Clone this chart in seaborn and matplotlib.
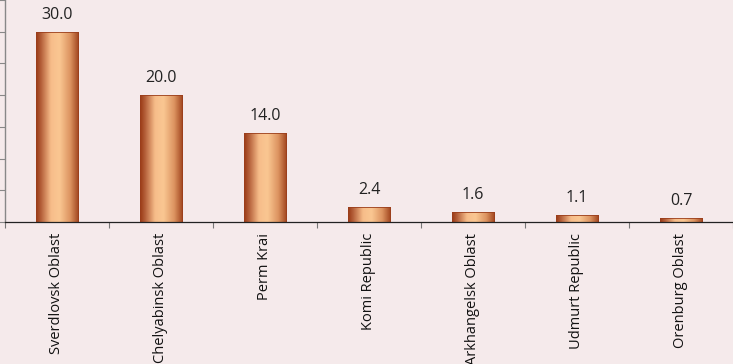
import numpy as np
import pandas as pd
import matplotlib
matplotlib.use("Agg")
import matplotlib.pyplot as plt
import seaborn as sns
from matplotlib.colors import LinearSegmentedColormap

regions = ["Sverdlovsk Oblast", "Chelyabinsk Oblast", "Perm Krai", "Komi Republic",
           "Arkhangelsk Oblast", "Udmurt Republic", "Orenburg Oblast"]
values = [30.0, 20.0, 14.0, 2.4, 1.6, 1.1, 0.7]
value_labels = ["30.0", "20.0", "14.0", "2.4", "1.6", "1.1", "0.7"]

bg = "#F5EAEB"
sns.set_theme(style="white")
plt.rcParams['font.family'] = ['Open Sans', 'DejaVu Sans']

fig = plt.figure(figsize=(7.33, 3.64), dpi=100, facecolor=bg)
ax = fig.add_axes([5/733, (364-222)/364, 728/733, 222/364])
ax.set_facecolor(bg)

df = pd.DataFrame({"region": regions, "value": values})
sns.barplot(data=df, x="region", y="value", ax=ax, width=0.41,
            color="#E8A070", edgecolor="#9A3E1C", linewidth=0.6, saturation=1)

ax.set_ylim(0, 35)
ax.set_xlim(-0.5, len(regions) - 0.5)

# cylinder-like gradient over each bar
cmap = LinearSegmentedColormap.from_list(
    "cyl", [(0.0, "#983814"), (0.12, "#B5603A"), (0.35, "#F7BD8A"),
            (0.55, "#FAC792"), (0.80, "#DC9360"), (1.0, "#A0431C")])
grad = np.linspace(0, 1, 256).reshape(1, -1)
for p in ax.patches:
    x0, y0 = p.get_x(), p.get_y()
    w, h = p.get_width(), p.get_height()
    im = ax.imshow(grad, cmap=cmap, aspect="auto", extent=[x0, x0 + w, y0, y0 + h],
                   zorder=p.get_zorder() + 0.1, interpolation="bicubic")
    im.set_clip_path(p)
    p.set_zorder(p.get_zorder() + 0.2)
    p.set_facecolor("none")

for i, (v, lab) in enumerate(zip(values, value_labels)):
    ax.annotate(lab, (i, v), xytext=(0, 6.5), textcoords="offset points",
                ha="center", va="bottom", fontsize=11.5, color="#222222")

ax.set_xlabel("")
ax.set_ylabel("")
ax.set_yticks(np.arange(0, 36, 5))
ax.set_yticklabels([])
ax.tick_params(axis="y", which="major", left=True, length=4, width=0.8, color="#888888")
ax.set_xticks(range(len(regions)))
ax.set_xticklabels(regions, rotation=90, fontsize=10.5, color="#111111")
ax.set_xticks(np.arange(-0.5, len(regions), 1), minor=True)
ax.tick_params(axis="x", which="major", bottom=False, length=0, pad=8)
ax.tick_params(axis="x", which="minor", bottom=True, length=4, width=0.8, color="#777777")

for s in ["top", "right"]:
    ax.spines[s].set_visible(False)
ax.spines["left"].set_color("#888888")
ax.spines["left"].set_linewidth(1.0)
ax.spines["bottom"].set_color("#222222")
ax.spines["bottom"].set_linewidth(0.9)

fig.savefig("out.png", dpi=100, facecolor=bg)
